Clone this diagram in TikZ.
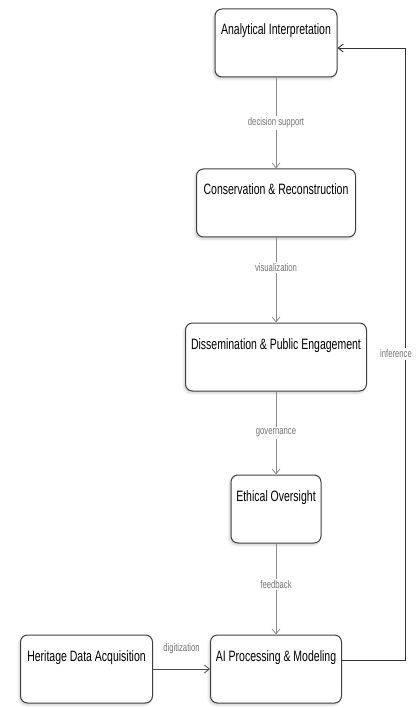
\documentclass[tikz,border=0pt]{standalone}
\usepackage{fontspec}
\setmainfont{Liberation Sans}[FakeStretch=0.7]
\usetikzlibrary{arrows.meta, positioning, shadows.blur}

\begin{document}
\begin{tikzpicture}[
    x=1pt, y=-1pt,
    >={Straight Barb[length=5pt, width=8pt]},
    font=\fontsize{15}{17}\selectfont,
    box/.style={rectangle, draw=black!75, fill=white, line width=1pt, rounded corners=7pt, inner sep=0pt, text height=26pt, text depth=42pt, blur shadow={shadow blur steps=5, shadow xshift=-1.5pt, shadow yshift=-2pt, shadow opacity=20}},
    arrow/.style={->, draw=black!45, line width=0.8pt},
    loop_arrow/.style={->, draw=black!80, line width=0.9pt},
    link/.style={font=\fontsize{11}{13}\selectfont, text=black!55, fill=white, inner sep=1.5pt}
]
\useasboundingbox (0,0) rectangle (416,708);

% ---- Main column ----
\node[box, minimum width=122pt] (interpretation) at (276,43) {Analytical Interpretation};
\node[box, minimum width=159pt, below=91pt of interpretation] (conservation) {Conservation \& Reconstruction};
\node[box, minimum width=181pt, below=85pt of conservation] (dissemination) {Dissemination \& Public Engagement};
\node[box, minimum width=90pt, below=83pt of dissemination] (ethics) {Ethical Oversight};
\node[box, minimum width=131pt, below=91pt of ethics] (ai_model) {AI Processing \& Modeling};

% ---- Input ----
\node[box, minimum width=132pt, left=57pt of ai_model] (acquisition) {Heritage Data Acquisition};

% ---- Loop corners ----
\coordinate (loop_bottom) at (405,660);
\coordinate (loop_top) at (405,48);

% ---- Connections ----
\draw[arrow, draw=black!70] (acquisition) -- node[link, above, yshift=13pt] {digitization} (ai_model);
\draw[arrow] (interpretation) -- node[link] {decision support} (conservation);
\draw[arrow] (conservation) -- node[link, pos=0.35] {visualization} (dissemination);
\draw[arrow] (dissemination) -- node[link] {governance} (ethics);
\draw[arrow] (ethics) -- node[link, pos=0.45] {feedback} (ai_model);
\draw[loop_arrow] (ai_model.east |- loop_bottom) -- (loop_bottom) -- node[link, xshift=-9pt] {inference} (loop_top) -- (interpretation.east |- loop_top);

\end{tikzpicture}
\end{document}
